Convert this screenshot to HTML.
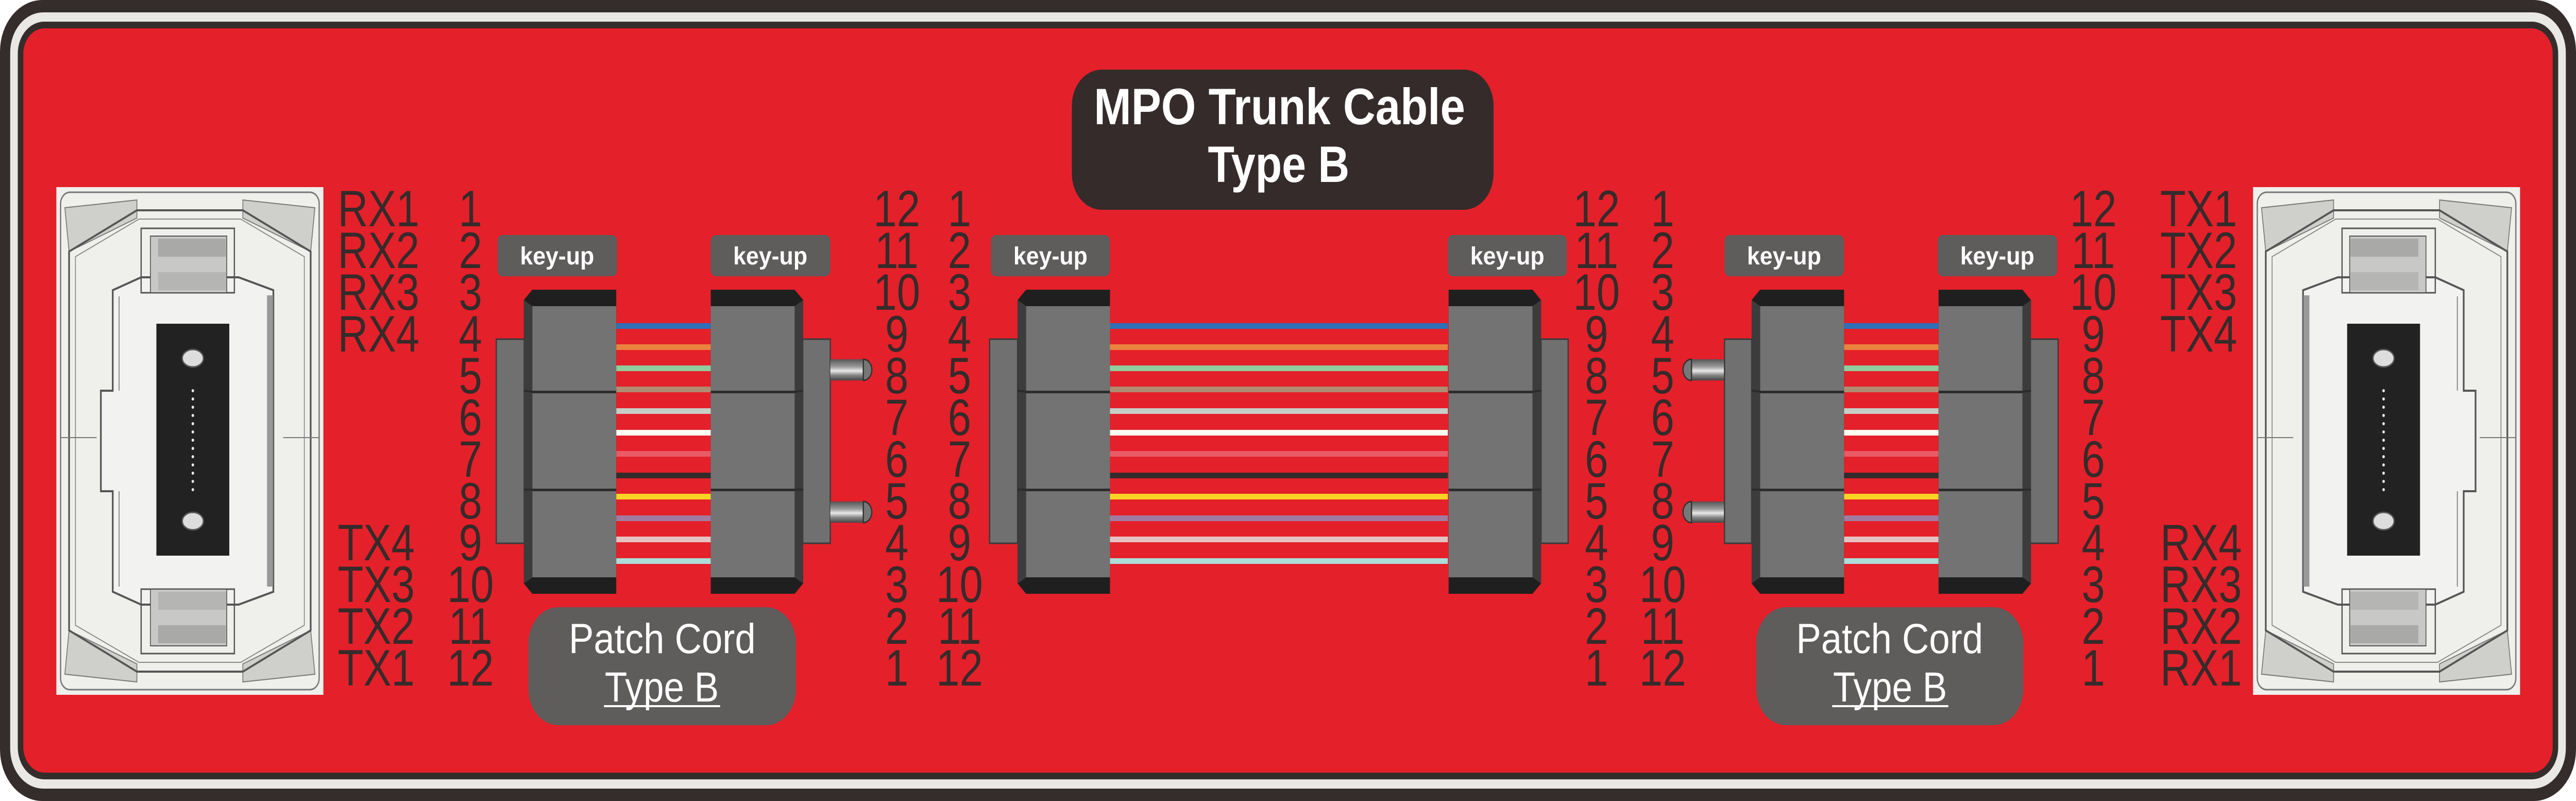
<!DOCTYPE html>
<html><head><meta charset="utf-8"><style>html,body{margin:0;padding:0;background:#e4202a;width:100%;height:100%;overflow:hidden}svg{display:block;position:fixed;left:0;top:0;width:100vw;height:100vh}</style></head>
<body>
<svg xmlns="http://www.w3.org/2000/svg" viewBox="0 0 6078 1554" preserveAspectRatio="none">
<defs>
<linearGradient id="pin" x1="0" y1="0" x2="0" y2="1">
<stop offset="0" stop-color="#555"/><stop offset="0.35" stop-color="#9a9a9a"/><stop offset="0.55" stop-color="#e8e8e8"/><stop offset="0.75" stop-color="#888"/><stop offset="1" stop-color="#444"/>
</linearGradient>
<g id="body">
<polygon points="22,2 220,2 220,592 22,592 2,572 2,22" fill="#1f1f1f"/>
<rect x="22" y="34" width="198" height="526" fill="#737373"/>
<polygon points="2,22 22,34 22,560 2,572" fill="#3c3c3c"/>
<rect x="22" y="198" width="198" height="5" fill="#2c2c2c"/>
<rect x="22" y="388" width="198" height="5" fill="#2c2c2c"/>
<line x1="2" y1="198" x2="22" y2="200" stroke="#2c2c2c" stroke-width="4"/>
<line x1="2" y1="390" x2="22" y2="390" stroke="#2c2c2c" stroke-width="4"/>
</g>
<g id="fib">
<rect x="0" y="627" width="1" height="11" fill="#2f71b8"/>
<rect x="0" y="668" width="1" height="11" fill="#eb833e"/>
<rect x="0" y="709" width="1" height="11" fill="#92cc9e"/>
<rect x="0" y="750" width="1" height="11" fill="#b08c72"/>
<rect x="0" y="792" width="1" height="11" fill="#c6cec6"/>
<rect x="0" y="834" width="1" height="11" fill="#fcfcf0"/>
<rect x="0" y="875" width="1" height="11" fill="#e85b67"/>
<rect x="0" y="917" width="1" height="11" fill="#352b2a"/>
<rect x="0" y="958" width="1" height="11" fill="#fad424"/>
<rect x="0" y="1000" width="1" height="11" fill="#a17ca0"/>
<rect x="0" y="1041" width="1" height="11" fill="#e6c2c2"/>
<rect x="0" y="1083" width="1" height="11" fill="#acdcd8"/>
</g>
<g id="mpo">
<rect x="0" y="0" width="630" height="985" fill="#efefec"/>
<rect x="10" y="10" width="610" height="965" rx="22" fill="none" stroke="#777" stroke-width="3"/>
<path d="M20,40 L190,25 L190,60 L30,125 Z M610,40 L440,25 L440,60 L600,125 Z M20,945 L190,960 L190,925 L30,860 Z M610,945 L440,960 L440,925 L600,860 Z" fill="#cfcfcc" stroke="#777" stroke-width="2"/>
<path d="M30,125 L190,45 L440,45 L600,125 L600,860 L440,940 L190,940 L30,860 Z" fill="none" stroke="#555" stroke-width="4"/>
<path d="M45,135 L195,62 L435,62 L585,135 L585,850 L435,922 L195,922 L45,850 Z" fill="none" stroke="#888" stroke-width="2"/>
<path d="M133,200 L200,175 L430,175 L512,200 L512,785 L430,810 L200,810 L133,785 L133,590 L105,590 L105,395 L133,395 Z" fill="#f2f2f0" stroke="#555" stroke-width="4"/>
<path d="M148,212 L148,395 M148,590 L148,775" stroke="#777" stroke-width="2"/>
<rect x="497" y="210" width="14" height="565" fill="#999"/>
<rect x="200" y="80" width="220" height="125" fill="none" stroke="#555" stroke-width="3"/>
<rect x="222" y="95" width="180" height="110" fill="#c8c8c6" stroke="#555" stroke-width="2"/>
<rect x="240" y="100" width="160" height="35" fill="#a9a9a7"/>
<rect x="240" y="165" width="160" height="35" fill="#b5b5b3"/>
<rect x="200" y="780" width="220" height="125" fill="none" stroke="#555" stroke-width="3"/>
<rect x="222" y="780" width="180" height="110" fill="#c8c8c6" stroke="#555" stroke-width="2"/>
<rect x="240" y="785" width="160" height="35" fill="#b5b5b3"/>
<rect x="240" y="850" width="160" height="35" fill="#a9a9a7"/>
<line x1="10" y1="486" x2="95" y2="486" stroke="#777" stroke-width="2"/>
<line x1="535" y1="486" x2="620" y2="486" stroke="#777" stroke-width="2"/>
<rect x="236" y="265" width="172" height="450" fill="#222"/>
<ellipse cx="322" cy="332" rx="25" ry="17" fill="#ddd" stroke="#555" stroke-width="3"/>
<ellipse cx="322" cy="648" rx="25" ry="17" fill="#ddd" stroke="#555" stroke-width="3"/>
<g fill="#eee">
<circle cx="322" cy="395" r="3"/><circle cx="322" cy="411" r="3"/><circle cx="322" cy="427" r="3"/><circle cx="322" cy="443" r="3"/><circle cx="322" cy="459" r="3"/><circle cx="322" cy="475" r="3"/><circle cx="322" cy="491" r="3"/><circle cx="322" cy="507" r="3"/><circle cx="322" cy="523" r="3"/><circle cx="322" cy="539" r="3"/><circle cx="322" cy="555" r="3"/><circle cx="322" cy="571" r="3"/><circle cx="322" cy="587" r="3"/>
</g>
</g>
<g id="pins">
<rect x="0" y="697" width="78" height="41" fill="url(#pin)"/>
<path d="M78,697 A20,20.5 0 0 1 78,738 Z" fill="#777" stroke="#333" stroke-width="3"/>
<rect x="0" y="973" width="78" height="41" fill="url(#pin)"/>
<path d="M78,973 A20,20.5 0 0 1 78,1014 Z" fill="#777" stroke="#333" stroke-width="3"/>
</g>
</defs>

<rect x="0" y="0" width="6078" height="1554" fill="#fff"/>
<rect x="0" y="0" width="6078" height="1554" rx="100" fill="#352d2b"/>
<rect x="24" y="24" width="6030" height="1506" rx="78" fill="#e9e8e4"/>
<rect x="42" y="42" width="5994" height="1470" rx="62" fill="#352d2b"/>
<rect x="55" y="55" width="5968" height="1444" rx="50" fill="#e4202a"/>

<rect x="2529" y="135" width="995" height="272" rx="70" fill="#352b2a"/>
<g font-family="'Liberation Sans', sans-serif" font-weight="bold" fill="#fff" text-anchor="middle">
<text x="3019" y="241" font-size="99" textLength="876" lengthAdjust="spacingAndGlyphs">MPO Trunk Cable</text>
<text x="3017" y="353" font-size="99" textLength="334" lengthAdjust="spacingAndGlyphs">Type B</text>
</g>

<use href="#mpo" x="133" y="363"/>
<use href="#mpo" transform="translate(5946,363) scale(-1,1)"/>

<use href="#fib" transform="translate(1454,0) scale(223,1)"/>
<use href="#fib" transform="translate(2619,0) scale(797,1)"/>
<use href="#fib" transform="translate(4351,0) scale(223,1)"/>

<rect x="1171" y="658" width="66" height="396" fill="#707070" stroke="#3a3a3a" stroke-width="3"/>
<use href="#body" x="1234" y="560"/>
<rect x="1894" y="658" width="65" height="396" fill="#707070" stroke="#3a3a3a" stroke-width="3"/>
<use href="#body" transform="translate(1897,560) scale(-1,1)"/>
<use href="#pins" x="1959" y="0"/>

<rect x="2335" y="658" width="66" height="396" fill="#707070" stroke="#3a3a3a" stroke-width="3"/>
<use href="#body" x="2399" y="560"/>
<rect x="3636" y="658" width="64" height="396" fill="#707070" stroke="#3a3a3a" stroke-width="3"/>
<use href="#body" transform="translate(3638,560) scale(-1,1)"/>

<use href="#pins" transform="translate(4069,0) scale(-1,1)"/>
<rect x="4069" y="658" width="64" height="396" fill="#707070" stroke="#3a3a3a" stroke-width="3"/>
<use href="#body" x="4131" y="560"/>
<rect x="4790" y="658" width="66" height="396" fill="#707070" stroke="#3a3a3a" stroke-width="3"/>
<use href="#body" transform="translate(4794,560) scale(-1,1)"/>

<g fill="#5f5c5c">
<rect x="1174" y="456" width="282" height="80" rx="12"/>
<rect x="1677" y="456" width="282" height="80" rx="12"/>
<rect x="2338" y="456" width="281" height="80" rx="12"/>
<rect x="3416" y="456" width="281" height="80" rx="12"/>
<rect x="4069" y="456" width="282" height="80" rx="12"/>
<rect x="4572" y="456" width="282" height="80" rx="12"/>
</g>
<g font-family="'Liberation Sans', sans-serif" font-weight="bold" font-size="48" fill="#fff">
<text x="1227" y="513" textLength="175" lengthAdjust="spacingAndGlyphs">key-up</text>
<text x="1730" y="513" textLength="175" lengthAdjust="spacingAndGlyphs">key-up</text>
<text x="2391" y="513" textLength="175" lengthAdjust="spacingAndGlyphs">key-up</text>
<text x="3469" y="513" textLength="175" lengthAdjust="spacingAndGlyphs">key-up</text>
<text x="4122" y="513" textLength="175" lengthAdjust="spacingAndGlyphs">key-up</text>
<text x="4625" y="513" textLength="175" lengthAdjust="spacingAndGlyphs">key-up</text>
</g>

<rect x="1247" y="1178" width="631" height="229" rx="70" fill="#5f5c5c"/>
<rect x="4144" y="1178" width="630" height="229" rx="70" fill="#5f5c5c"/>
<g font-family="'Liberation Sans', sans-serif" font-size="82" fill="#fff">
<text x="1342" y="1267" textLength="441" lengthAdjust="spacingAndGlyphs">Patch Cord</text>
<text x="1427" y="1361" textLength="269" lengthAdjust="spacingAndGlyphs">Type B</text>
<text x="4238" y="1267" textLength="441" lengthAdjust="spacingAndGlyphs">Patch Cord</text>
<text x="4325" y="1361" textLength="269" lengthAdjust="spacingAndGlyphs">Type B</text>
</g>
<rect x="1425" y="1368" width="274" height="4" fill="#fff"/>
<rect x="4323" y="1368" width="274" height="4" fill="#fff"/>

<g font-family="'Liberation Sans', sans-serif" font-size="99" fill="#352b2a">
<text x="797" y="439">RX1</text>
<text x="797" y="520">RX2</text>
<text x="797" y="601">RX3</text>
<text x="797" y="682">RX4</text>
<text x="797" y="1087">TX4</text>
<text x="797" y="1168">TX3</text>
<text x="797" y="1249">TX2</text>
<text x="797" y="1330">TX1</text>
<text x="5097" y="439">TX1</text>
<text x="5097" y="520">TX2</text>
<text x="5097" y="601">TX3</text>
<text x="5097" y="682">TX4</text>
<text x="5097" y="1087">RX4</text>
<text x="5097" y="1168">RX3</text>
<text x="5097" y="1249">RX2</text>
<text x="5097" y="1330">RX1</text>
</g>

<g font-family="'Liberation Sans', sans-serif" font-size="99" fill="#352b2a" text-anchor="middle">
<text x="1110" y="439">1</text><text x="1110" y="520">2</text><text x="1110" y="601">3</text><text x="1110" y="682">4</text><text x="1110" y="763">5</text><text x="1110" y="844">6</text><text x="1110" y="925">7</text><text x="1110" y="1006">8</text><text x="1110" y="1087">9</text><text x="1110" y="1168">10</text><text x="1110" y="1249">11</text><text x="1110" y="1330">12</text>

<text x="2116" y="439">12</text><text x="2116" y="520">11</text><text x="2116" y="601">10</text><text x="2116" y="682">9</text><text x="2116" y="763">8</text><text x="2116" y="844">7</text><text x="2116" y="925">6</text><text x="2116" y="1006">5</text><text x="2116" y="1087">4</text><text x="2116" y="1168">3</text><text x="2116" y="1249">2</text><text x="2116" y="1330">1</text>

<text x="2264" y="439">1</text><text x="2264" y="520">2</text><text x="2264" y="601">3</text><text x="2264" y="682">4</text><text x="2264" y="763">5</text><text x="2264" y="844">6</text><text x="2264" y="925">7</text><text x="2264" y="1006">8</text><text x="2264" y="1087">9</text><text x="2264" y="1168">10</text><text x="2264" y="1249">11</text><text x="2264" y="1330">12</text>

<text x="3767" y="439">12</text><text x="3767" y="520">11</text><text x="3767" y="601">10</text><text x="3767" y="682">9</text><text x="3767" y="763">8</text><text x="3767" y="844">7</text><text x="3767" y="925">6</text><text x="3767" y="1006">5</text><text x="3767" y="1087">4</text><text x="3767" y="1168">3</text><text x="3767" y="1249">2</text><text x="3767" y="1330">1</text>

<text x="3923" y="439">1</text><text x="3923" y="520">2</text><text x="3923" y="601">3</text><text x="3923" y="682">4</text><text x="3923" y="763">5</text><text x="3923" y="844">6</text><text x="3923" y="925">7</text><text x="3923" y="1006">8</text><text x="3923" y="1087">9</text><text x="3923" y="1168">10</text><text x="3923" y="1249">11</text><text x="3923" y="1330">12</text>

<text x="4939" y="439">12</text><text x="4939" y="520">11</text><text x="4939" y="601">10</text><text x="4939" y="682">9</text><text x="4939" y="763">8</text><text x="4939" y="844">7</text><text x="4939" y="925">6</text><text x="4939" y="1006">5</text><text x="4939" y="1087">4</text><text x="4939" y="1168">3</text><text x="4939" y="1249">2</text><text x="4939" y="1330">1</text>
</g>
</svg>
</body></html>
